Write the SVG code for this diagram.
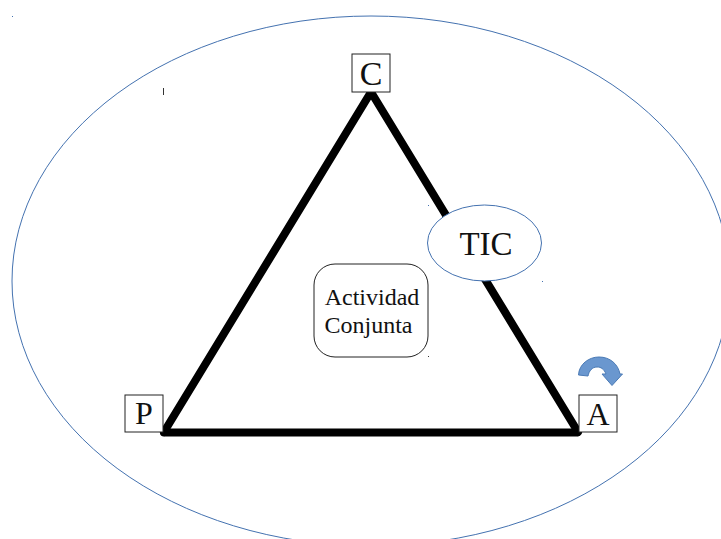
<svg xmlns="http://www.w3.org/2000/svg" width="721" height="539" viewBox="0 0 721 539">
<style>
.t{font-family:"Liberation Serif","Times New Roman",serif;fill:#111;text-anchor:middle}
.box{fill:#fff;stroke:#222;stroke-width:1}
.blue{fill:#fff;stroke:#4472b0;stroke-width:1}
.edge{stroke:#000;stroke-width:8;stroke-linecap:round;fill:none}
</style>
<rect width="721" height="539" fill="#fff"/>
<g id="context"><ellipse class="blue" cx="371" cy="281" rx="359" ry="265" fill="none"/></g>
<g id="connectors">
<path class="edge" d="M371 92L578 432"/>
<path class="edge" d="M371 92L164 432"/>
<path class="edge" d="M164 432.500H577"/>
</g>
<g id="node-c"><rect class="box" x="352" y="54" width="38" height="38"/><text class="t" x="371" y="85" font-size="34">C</text></g>
<g id="node-p"><rect class="box" x="125" y="395" width="38" height="37"/><text class="t" x="144" y="424" font-size="32">P</text></g>
<g id="node-a"><rect class="box" x="579" y="395" width="38" height="37"/><text class="t" x="598" y="425" font-size="32">A</text></g>
<g id="node-tic"><ellipse class="blue" cx="484.500" cy="243" rx="57" ry="38"/><text class="t" x="486" y="255" font-size="33">TIC</text></g>
<g id="node-actividad"><rect class="box" x="314" y="264" width="114" height="93" rx="21"/><text class="t" x="372" y="305" font-size="24">Actividad</text><text class="t" x="368.500" y="333" font-size="24">Conjunta</text></g>
<g id="cycle-arrow"><path d="M578.500 375C579 364 589 357 599 357C610 357 618 364 620 374L622.500 374L612 385.500L602 374L606 374C604 369 601 367 597 367C592 367 589 371 588 376Z" fill="#6a97cf" stroke="#4a7ab5" stroke-width="1"/></g>
<g id="specks">
<rect x="12" y="16" width="1" height="1" fill="#4472b0"/>
<rect x="163" y="88" width="1" height="7" fill="#333"/>
<rect x="428" y="205" width="1" height="1" fill="#4472b0"/>
<rect x="542" y="281" width="1" height="1" fill="#4472b0"/>
<rect x="428" y="356" width="1" height="1" fill="#333"/>
</g>
</svg>
